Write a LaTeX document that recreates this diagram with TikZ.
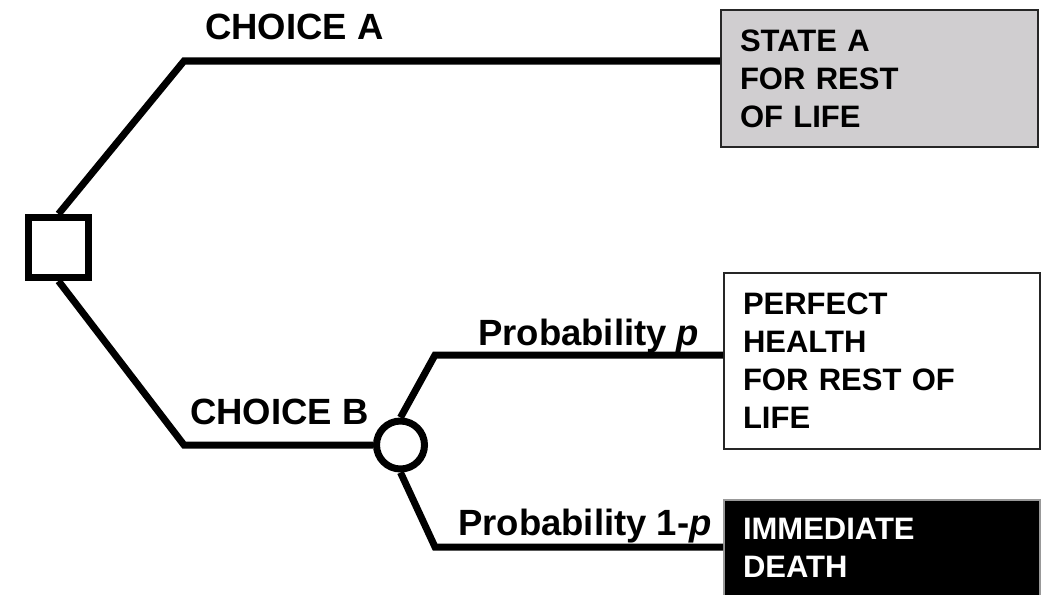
\documentclass[tikz,border=0pt]{standalone}
\usepackage{fontspec}
\setmainfont{Liberation Sans}
\usetikzlibrary{positioning}
\definecolor{stategray}{RGB}{208,206,208}

\begin{document}
\begin{tikzpicture}[x=1pt,y=-1pt,
  branch/.style={line width=7pt},
  lbl/.style={anchor=base west,inner sep=0pt,font=\fontsize{36.5}{40}\selectfont\bfseries},
  outcome/.style={draw=black!85,line width=1.6pt,inner xsep=19pt,inner ysep=0pt,align=left,
    font=\fontsize{31}{38}\selectfont\bfseries}]
\useasboundingbox (0,0) rectangle (1048,594);
\clip (0,0) rectangle (1048,594);
% decision and chance nodes
\node[draw,line width=7pt,minimum size=60pt,inner sep=0pt] (dec) at (58.5,247.5) {};
\node[draw,circle,line width=7pt,minimum size=48pt,inner sep=0pt] (chance) at (400.5,445) {};
% outcomes
\node[outcome,fill=stategray,minimum width=317pt,text width=279pt,minimum height=137pt] (stateA) at (879.5,78.5) {STATE A\\FOR REST\\OF LIFE};
\node[outcome,fill=white,minimum width=316pt,text width=278pt,minimum height=176pt] (health) at (882,361) {PERFECT\\HEALTH\\FOR REST OF\\LIFE};
\node[outcome,draw=black!40,fill=black,text=white,minimum width=316pt,text width=278pt,minimum height=96pt] (death) at (882,548) {IMMEDIATE\\DEATH};
% bends
\coordinate (cA) at (184,61);
\coordinate (cB) at (184,445);
\coordinate (cP) at (435,355);
\coordinate (cQ) at (435,547);
\draw[branch] (dec.north) -- (cA) -- (cA -| stateA.west);
\draw[branch] (dec.south) -- (cB) -- (chance.west);
\draw[branch] (chance.north) -- (cP) -- (cP -| health.west);
\draw[branch] (chance.south) -- (cQ) -- (cQ -| death.west);
% labels
\node[lbl] (labA) at (205,40) {CHOICE A};
\node[lbl] (labB) at (190,424) {CHOICE B};
\node[lbl] (labP) at (478,345) {Probability \textit{p}};
\node[lbl] (labQ) at (458,535) {Probability 1-\textit{p}};
\end{tikzpicture}
\end{document}
